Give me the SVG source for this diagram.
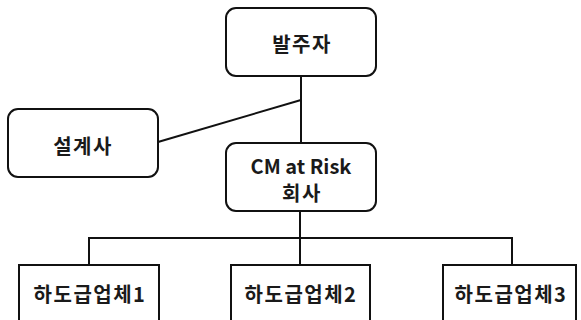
<svg xmlns="http://www.w3.org/2000/svg" width="581" height="320" viewBox="0 0 581 320">
<style>
.box{fill:#fff;stroke:#111;stroke-width:2}
.t{font-family:"Noto Sans CJK KR","Noto Sans",sans-serif;font-size:20px;font-weight:700;fill:#1a1a1a;text-anchor:middle;dominant-baseline:central}
.k{letter-spacing:1.5px}
.ln{stroke:#111;stroke-width:2;fill:none}
</style>
<rect width="581" height="320" fill="#fff"/>
<g id="connectors">
<line class="ln" x1="301" y1="76" x2="301" y2="143"/>
<line class="ln" x1="301" y1="100" x2="158" y2="142"/>
<line class="ln" x1="300" y1="211" x2="300" y2="265"/>
<polyline class="ln" points="89,265 89,238 512,238 512,265"/>
</g>
<g id="node-owner">
<rect class="box" x="226" y="8" width="150" height="68" rx="10"/>
<text class="t k" x="302" y="43">발주자</text>
</g>
<g id="node-designer">
<rect class="box" x="8" y="109" width="150" height="68" rx="10"/>
<text class="t k" x="83" y="145">설계사</text>
</g>
<g id="node-cm">
<rect class="box" x="226" y="143" width="150" height="68" rx="10"/>
<text class="t" x="301" y="165">CM at Risk</text>
<text class="t k" x="302" y="192">회사</text>
</g>
<g id="node-sub1">
<rect class="box" x="19" y="265" width="140" height="70"/>
<text class="t k" x="90" y="293">하도급업체1</text>
</g>
<g id="node-sub2">
<rect class="box" x="231" y="265" width="139" height="70"/>
<text class="t k" x="301" y="293">하도급업체2</text>
</g>
<g id="node-sub3">
<rect class="box" x="443" y="265" width="133" height="70"/>
<text class="t k" x="511" y="293">하도급업체3</text>
</g>
</svg>
